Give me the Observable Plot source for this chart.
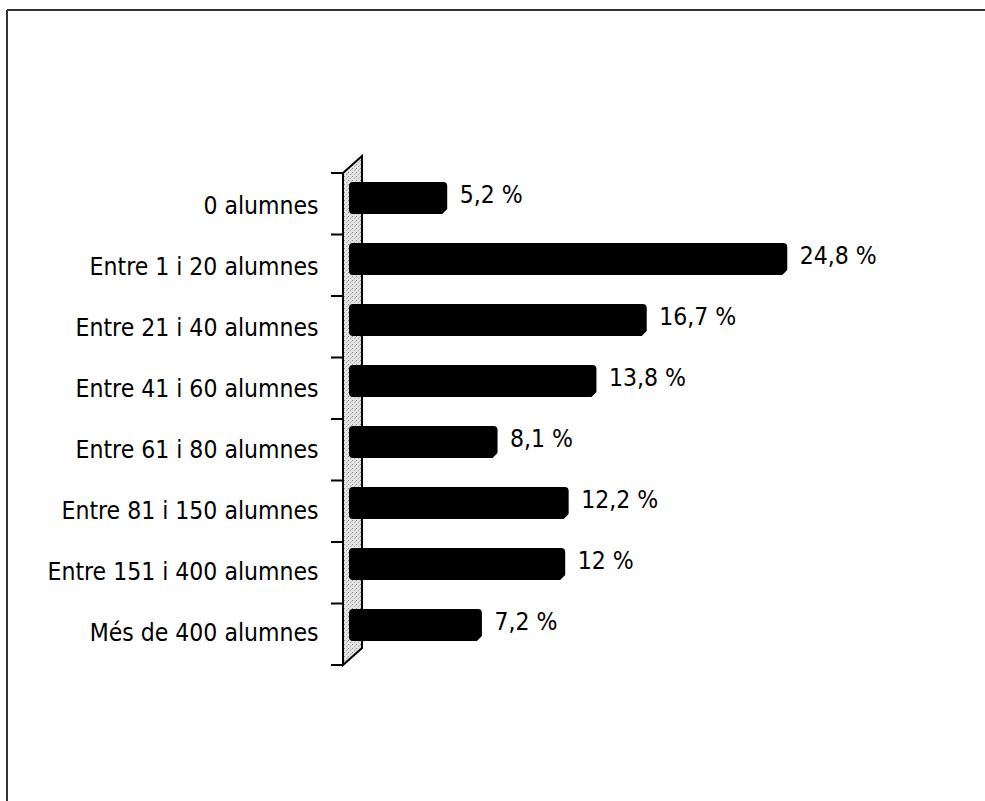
<!DOCTYPE html>
<html>
<head>
<meta charset="utf-8">
<script src="https://cdn.jsdelivr.net/npm/d3@7"></script>
<script src="https://cdn.jsdelivr.net/npm/@observablehq/plot@0.6"></script>
<style>
  html, body { margin: 0; padding: 0; background: white; overflow: hidden; }
  svg { display: block; }
</style>
</head>
<body>
<div id="chart"></div>
<script>
const categories = [
  "0 alumnes",
  "Entre 1 i 20 alumnes",
  "Entre 21 i 40 alumnes",
  "Entre 41 i 60 alumnes",
  "Entre 61 i 80 alumnes",
  "Entre 81 i 150 alumnes",
  "Entre 151 i 400 alumnes",
  "Més de 400 alumnes"
];
const values = [5.2, 24.8, 16.7, 13.8, 8.1, 12.2, 12, 7.2];

const data = categories.map((c, i) => ({category: c, value: values[i]}));
const fmt = v => String(v).replace(".", ",") + " %";
const PAD_INNER = 0.48, PAD_OUTER = 0.24, BAR_DY = -7;

// decorative border (top and left lines)
function frameMark(index, scales, values, dimensions) {
  const g = d3.create("svg:g");
  g.append("line").attr("x1", 7).attr("x2", dimensions.width).attr("y1", 10).attr("y2", 10)
    .attr("stroke", "#333").attr("stroke-width", 2);
  g.append("line").attr("x1", 7).attr("x2", 7).attr("y1", 10).attr("y2", dimensions.height)
    .attr("stroke", "#333").attr("stroke-width", 2);
  return g.node();
}

// 3D-like wall along the category axis
function wallMark(index, scales, values, dimensions) {
  const x0 = scales.x(0);
  const yTop = dimensions.marginTop;
  const yBot = dimensions.height - dimensions.marginBottom;
  const xL = x0 - 14, xR = x0 + 5, slant = 17;
  const g = d3.create("svg:g");
  const defs = g.append("defs");
  const pat = defs.append("pattern").attr("id", "stipple").attr("patternUnits", "userSpaceOnUse")
    .attr("width", 4).attr("height", 4);
  pat.append("rect").attr("width", 4).attr("height", 4).attr("fill", "#e4e4e4");
  pat.append("rect").attr("x", 0).attr("y", 0).attr("width", 1).attr("height", 1).attr("fill", "#888");
  pat.append("rect").attr("x", 2).attr("y", 2).attr("width", 1).attr("height", 1).attr("fill", "#aaa");
  pat.append("rect").attr("x", 3).attr("y", 1).attr("width", 1).attr("height", 1).attr("fill", "#c4c4c4");
  g.append("path")
    .attr("d", `M${xL},${yTop}L${xR},${yTop - slant}L${xR},${yBot - slant}L${xL},${yBot}Z`)
    .attr("fill", "url(#stipple)").attr("stroke", "black").attr("stroke-width", 2)
    .attr("stroke-linejoin", "miter");
  const n = categories.length;
  const step = (yBot - yTop) / n;
  for (let i = 0; i <= n; i++) {
    const y = yTop + i * step;
    g.append("line").attr("x1", xL - 12).attr("x2", xL).attr("y1", y).attr("y2", y)
      .attr("stroke", "black").attr("stroke-width", 2);
  }
  return g.node();
}

// bevel at the bottom-right corner of each bar end
function bevelMark(index, scales, values, dimensions) {
  const yTop = dimensions.marginTop;
  const yBot = dimensions.height - dimensions.marginBottom;
  const step = (yBot - yTop) / categories.length;
  const bw = step * (1 - PAD_INNER);
  const g = d3.create("svg:g");
  data.forEach(d => {
    const xe = scales.x(d.value) + 0.5;
    const yb = scales.y(d.category) + bw - 1 + BAR_DY + 0.5;
    g.append("path").attr("d", `M${xe - 6},${yb}L${xe},${yb}L${xe},${yb - 6}Z`).attr("fill", "white");
  });
  return g.node();
}

const chart = Plot.plot({
  width: 985,
  height: 801,
  marginLeft: 357,
  marginRight: 107.5,
  marginTop: 173,
  marginBottom: 136,
  style: {
    fontFamily: "'DejaVu Sans Condensed', 'DejaVu Sans', sans-serif",
    fontSize: "24.5px",
    background: "white",
    color: "black"
  },
  x: {domain: [0, 30], axis: null},
  y: {domain: categories, paddingInner: PAD_INNER, paddingOuter: PAD_OUTER, tickSize: 0, tickPadding: 39, label: null},
  marks: [
    frameMark,
    wallMark,
    Plot.barX(data, {x: "value", y: "category", fill: "black", insetLeft: -8, rx: 4,
      insetTop: -1, insetBottom: 1, dy: BAR_DY}),
    bevelMark,
    Plot.text(data, {x: "value", y: "category", text: d => fmt(d.value), textAnchor: "start",
      dx: 12, dy: -11, fontSize: 24.5, fill: "black"})
  ]
});
document.getElementById("chart").appendChild(chart);
</script>
</body>
</html>
